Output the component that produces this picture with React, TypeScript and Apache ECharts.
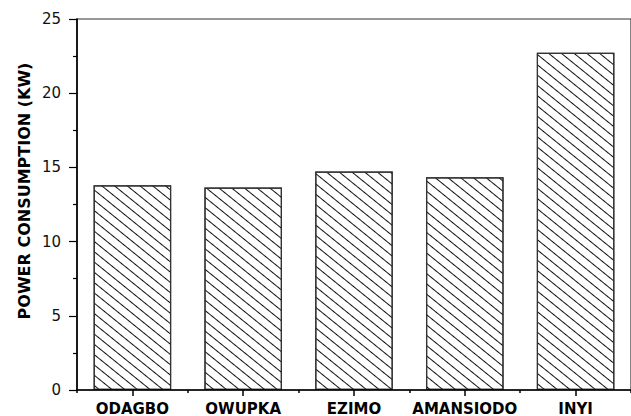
import React, { useEffect, useRef } from "react";
import * as echarts from "echarts";

const categories = ["ODAGBO", "OWUPKA", "EZIMO", "AMANSIODO", "INYI"];
const powerValues = [13.8, 13.65, 14.72, 14.33, 22.73];
const yTitle = "POWER CONSUMPTION (KW)";

export default function App() {
  const ref = useRef<HTMLDivElement>(null);
  useEffect(() => {
    if (!ref.current) return;
    const chart = echarts.init(ref.current, undefined, { renderer: "svg" });
    chart.setOption({
      animation: false,
      backgroundColor: "#fff",
      grid: {
        left: 77,
        top: 19,
        width: 562,
        height: 372,
        show: true,
        borderColor: "#333",
        borderWidth: 1.2,
      },
      graphic: [
        {
          type: "text",
          x: 24,
          y: 191,
          rotation: Math.PI / 2,
          style: {
            text: yTitle,
            fontFamily: "DejaVu Sans",
            fontWeight: "bold",
            fontSize: 16,
            fill: "#000",
            align: "center",
            verticalAlign: "middle",
          },
        },
      ],
      xAxis: [
        {
          type: "category",
          data: categories,
          position: "bottom",
          z: 5,
          axisLine: { show: true, lineStyle: { color: "#000", width: 1.6 } },
          axisTick: { show: true, alignWithLabel: true, length: 6, lineStyle: { color: "#000", width: 1.5 } },
          axisLabel: {
            interval: 0,
            margin: 11,
            fontFamily: "DejaVu Sans",
            fontWeight: "bold",
            fontSize: 15,
            color: "#000",
          },
          splitLine: { show: false },
        },
        {
          type: "category",
          data: categories,
          position: "bottom",
          axisLine: { show: false },
          axisTick: { show: true, alignWithLabel: false, length: 3, lineStyle: { color: "#000", width: 1.5 } },
          axisLabel: { show: false },
          splitLine: { show: false },
        },
      ],
      yAxis: {
        type: "value",
        min: 0,
        max: 25,
        interval: 5,
        z: 5,
        axisLine: { show: true, lineStyle: { color: "#000", width: 1.6 } },
        axisTick: { show: true, length: 8, lineStyle: { color: "#000", width: 1.2 } },
        minorTick: { show: true, splitNumber: 2, length: 4, lineStyle: { color: "#000", width: 1.2 } },
        axisLabel: {
          margin: 16,
          fontFamily: "DejaVu Sans",
          fontSize: 15,
          color: "#111",
        },
        splitLine: { show: false },
      },
      series: [
        {
          type: "bar",
          data: powerValues,
          barWidth: "70%",
          itemStyle: {
            color: "#fff",
            borderColor: "#333",
            borderWidth: 1.2,
            decal: {
              symbol: "rect",
              symbolSize: 1,
              dashArrayX: [1, 0],
              dashArrayY: [1, 7],
              rotation: 0.68,
              color: "#111",
            },
          },
        },
      ],
    });
    return () => chart.dispose();
  }, []);
  return (
    <div
      ref={ref}
      style={{ position: "fixed", left: 0, top: 0, width: 631, height: 416 }}
    />
  );
}
